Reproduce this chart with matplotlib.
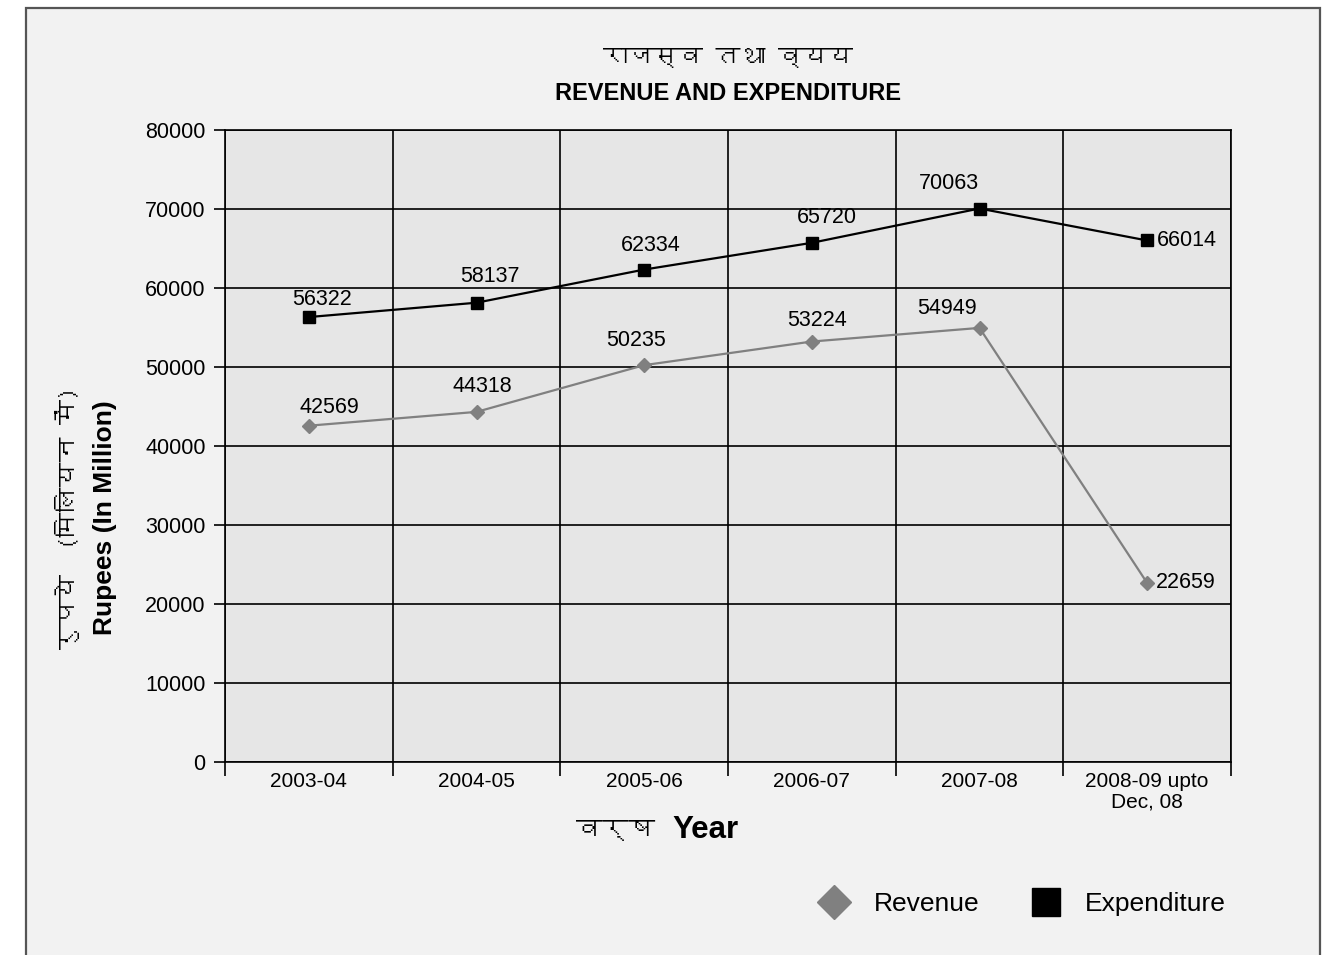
import matplotlib
matplotlib.use("Agg")
import matplotlib.pyplot as plt
from matplotlib import font_manager as fm
from matplotlib.lines import Line2D
from matplotlib.patches import Rectangle

# ---- data ----
years = ["2003-04", "2004-05", "2005-06", "2006-07", "2007-08", "2008-09 upto\nDec, 08"]
revenue = [42569, 44318, 50235, 53224, 54949, 22659]
expenditure = [56322, 58137, 62334, 65720, 70063, 66014]
y_ticks = [0, 10000, 20000, 30000, 40000, 50000, 60000, 70000, 80000]

title_hi = "राजस्व तथा व्यय"
title_en = "REVENUE AND EXPENDITURE"
ylabel_hi = "रुपये  (मिलियन में)"
ylabel_en = "Rupees (In Million)"
xlabel_hi = "वर्ष"
xlabel_en = "Year"

# label offsets in pixels (dx, dy, horizontal alignment)
exp_off = [(13, 18, "center"), (13, 26, "center"), (7, 24, "center"),
           (15, 25, "center"), (-31, 25, "center"), (10, 0, "left")]
rev_off = [(21, 18, "center"), (6, 25, "center"), (-8, 25, "center"),
           (5, 21, "center"), (-33, 19, "center"), (9, 0, "left")]


def find_devanagari_font():
    try:
        from fontTools.ttLib import TTFont
    except Exception:
        return None
    for f in fm.fontManager.ttflist:
        try:
            tt = TTFont(f.fname, fontNumber=0, lazy=True)
            cmap = tt.getBestCmap()
            if cmap and 0x0930 in cmap and 0x0935 in cmap:
                return f.name
        except Exception:
            continue
    return None


deva = find_devanagari_font()
base = "Liberation Sans"
hi_family = [deva, base] if deva else [base, "DejaVu Sans"]
plt.rcParams["font.family"] = [base, "DejaVu Sans"]

W, H = 1333, 955
fig = plt.figure(figsize=(W / 100, H / 100), dpi=100, facecolor="white")

# outer panel
fig.patches.append(Rectangle((26 / W, -0.05), (1320 - 26) / W, 1.05 - 8 / H,
                             transform=fig.transFigure, facecolor="#f2f2f2",
                             edgecolor="#555555", linewidth=1.6, zorder=-5))

ax = fig.add_axes([225 / W, 1 - 762 / H, (1231 - 225) / W, (762 - 130) / H])
ax.set_zorder(2)
ax.set_facecolor("#e6e6e6")

x = list(range(len(years)))
ax.plot(x, expenditure, color="black", lw=1.6, marker="s", ms=8.5,
        markerfacecolor="black", markeredgecolor="black", zorder=4, clip_on=False)
ax.plot(x, revenue, color="#808080", lw=1.6, marker="D", ms=7.5,
        markerfacecolor="#808080", markeredgecolor="#808080", zorder=4, clip_on=False)

for xi, v, (dx, dy, ha) in zip(x, expenditure, exp_off):
    ax.annotate(f"{v}", (xi, v), xytext=(dx, dy), textcoords="offset pixels",
                ha=ha, va="center", fontsize=15.5, color="black", zorder=5)
for xi, v, (dx, dy, ha) in zip(x, revenue, rev_off):
    ax.annotate(f"{v}", (xi, v), xytext=(dx, dy), textcoords="offset pixels",
                ha=ha, va="center", fontsize=15.5, color="black", zorder=5)

ax.set_xlim(-0.5, len(years) - 0.5)
ax.set_ylim(0, 80000)
ax.set_yticks(y_ticks)
ax.set_yticklabels([str(t) for t in y_ticks], fontsize=15.5)
ax.tick_params(axis="y", length=8, width=1.2, color="black", pad=6)

# category ticks at boundaries, labels at centres
ax.set_xticks([i - 0.5 for i in range(len(years) + 1)])
ax.set_xticklabels([])
ax.tick_params(axis="x", length=10, width=1.2, color="black")
ax.set_xticks(x, minor=True)
ax.set_xticklabels(years, minor=True, fontsize=15, linespacing=1.15)
ax.tick_params(axis="x", which="minor", length=0, pad=7)

ax.grid(True, which="major", color="black", linewidth=1.2)
ax.set_axisbelow(True)
for s in ax.spines.values():
    s.set_color("black")
    s.set_linewidth(1.2)

# titles
fig.text(728 / W, 1 - 57 / H, title_hi, ha="center", va="center",
         fontsize=18, family=hi_family)
fig.text(728 / W, 1 - 94 / H, title_en, ha="center", va="center",
         fontsize=17, fontweight="bold")

# axis titles
fig.text(68 / W, 1 - 518 / H, ylabel_hi, ha="center", va="center",
         rotation=90, fontsize=18, family=hi_family)
fig.text(105 / W, 1 - 518 / H, ylabel_en, ha="center", va="center",
         rotation=90, fontsize=19, fontweight="bold")
fig.text(655 / W, 1 - 830 / H, xlabel_hi, ha="right", va="center",
         fontsize=19, family=hi_family)
fig.text(705 / W, 1 - 830 / H, xlabel_en, ha="center", va="center",
         fontsize=22.5, fontweight="bold")

# legend
handles = [
    Line2D([], [], linestyle="none", marker="D", ms=17, color="#808080",
           markeredgecolor="#808080"),
    Line2D([], [], linestyle="none", marker="s", ms=20, color="black"),
]
fig.legend(handles, ["Revenue", "Expenditure"], loc="center",
           bbox_to_anchor=(1017 / W, 1 - 904 / H), ncol=2, frameon=False,
           fontsize=19, handletextpad=0.5, columnspacing=1.5)

fig.savefig("out.png", dpi=100, facecolor="white")
